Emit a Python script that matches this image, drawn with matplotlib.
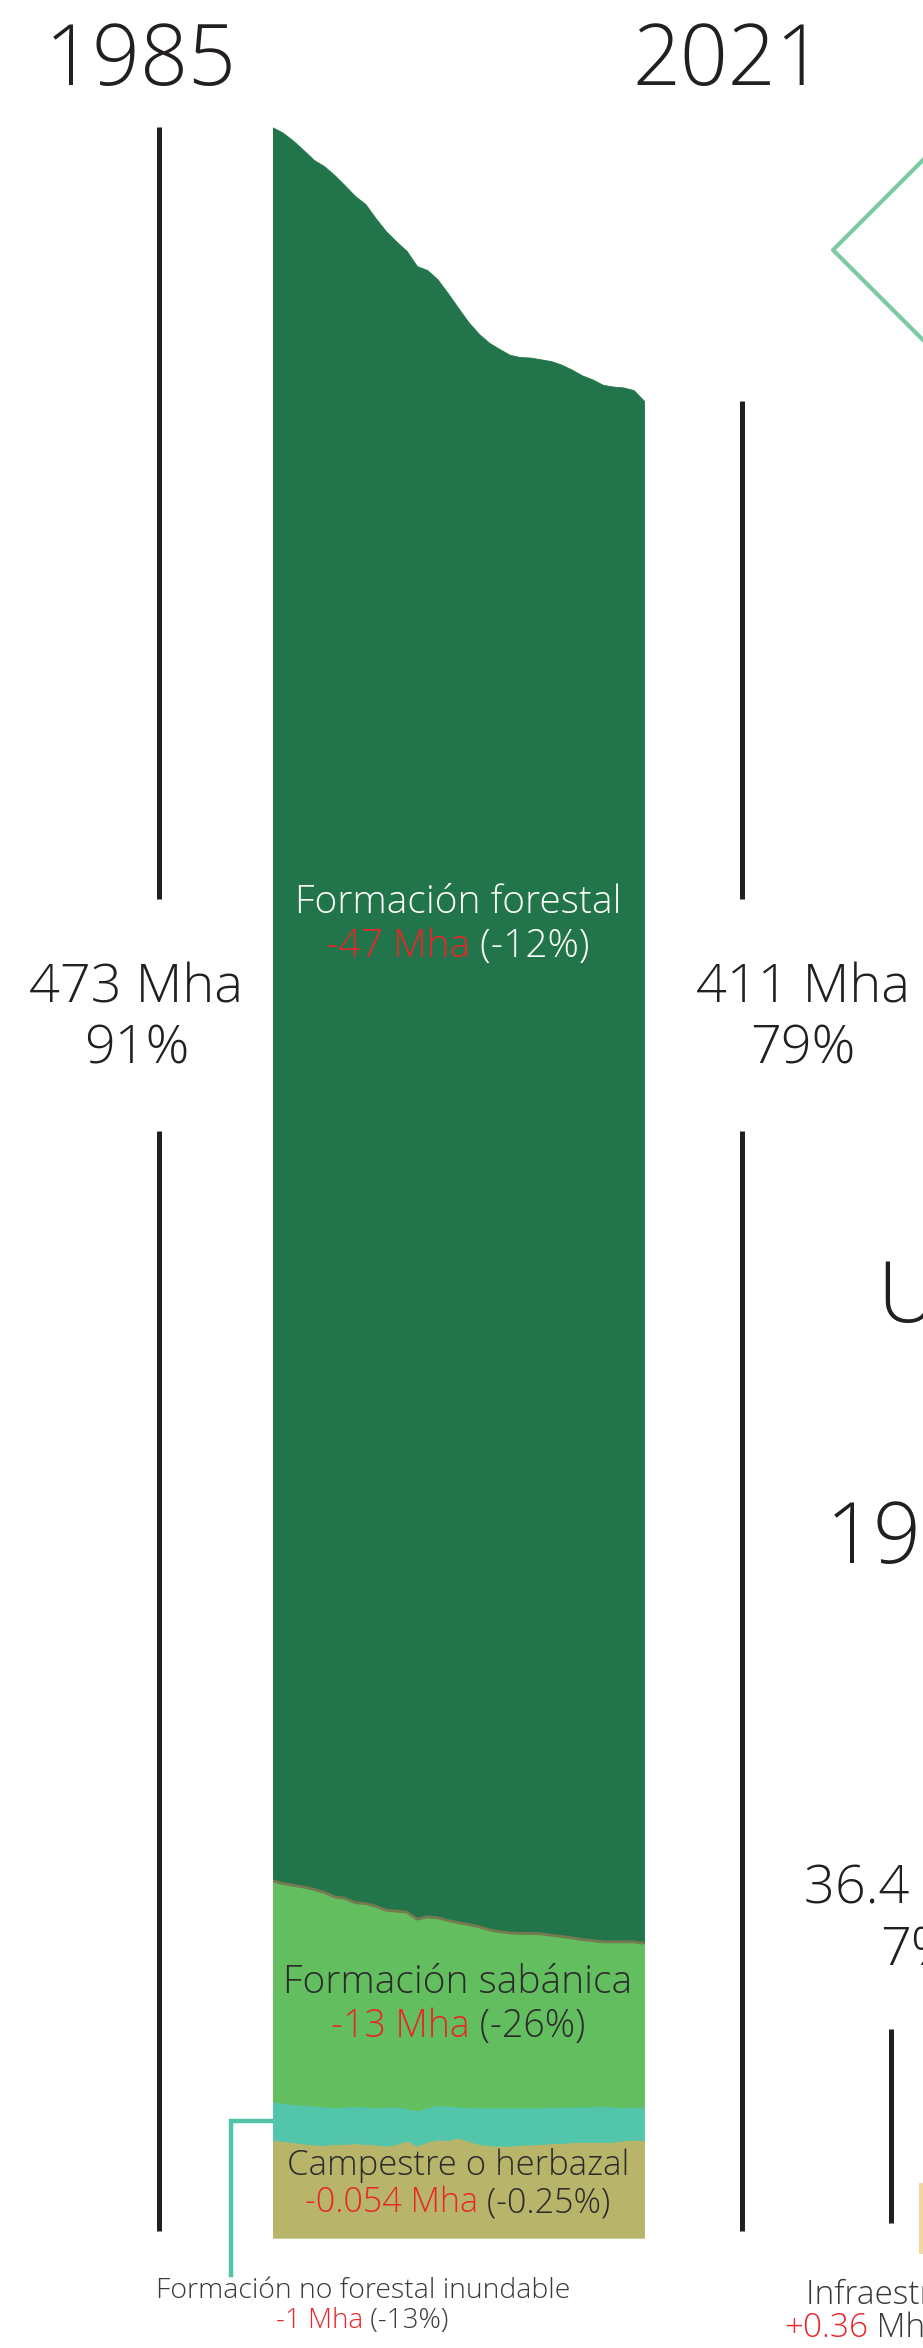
import matplotlib
matplotlib.use("Agg")
import matplotlib.pyplot as plt
import matplotlib.transforms as mtransforms
import numpy as np

W, H, DPI = 923, 2348, 100

# natural cover, Mha per year (stack bottom -> top)
years = np.arange(1985, 2022)
grassland = [21.9, 21.7, 21.4, 21.1, 20.9, 20.8, 21.0, 21.0, 21.2, 21.0,
             20.9, 20.6, 21.0, 21.8, 20.6, 21.5, 22.0, 21.9, 22.4, 21.7,
             21.0, 20.7, 20.6, 20.6, 20.8, 20.9, 21.0, 21.2, 21.2, 21.4,
             21.5, 21.5, 21.5, 21.5, 21.8, 22.0, 21.85]
flooded = [8.6, 8.5, 8.5, 8.7, 8.7, 8.6, 8.2, 8.4, 8.3, 8.4,
           8.3, 8.7, 8.4, 7.2, 7.9, 7.7, 7.7, 7.7, 7.0, 7.5,
           8.2, 8.5, 8.6, 8.6, 8.4, 8.3, 8.2, 8.1, 8.1, 8.0,
           7.9, 7.9, 8.0, 7.9, 7.4, 7.3, 7.55]
savanna = [49.5, 49.2, 49.1, 48.8, 48.5, 48.0, 47.2, 46.7, 45.6, 45.5,
           45.1, 44.1, 43.8, 44.0, 42.9, 42.7, 42.0, 41.5, 41.2, 41.0,
           40.5, 39.8, 39.4, 39.1, 39.0, 39.0, 38.9, 38.5, 38.2, 37.8,
           37.4, 37.2, 36.8, 36.9, 37.1, 37.0, 36.6]
forest = [393.0, 392.4, 391.0, 389.3, 387.6, 386.9, 385.9, 383.9, 382.5, 380.9,
          378.3, 376.3, 374.2, 372.3, 370.5, 369.1, 367.2, 364.7, 361.9, 359.1,
          357.0, 355.7, 354.7, 353.7, 353.3, 353.2, 352.9, 352.8, 352.3, 351.5,
          350.6, 349.9, 349.0, 348.6, 348.4, 347.8, 345.7]

class_names = ["Campestre o herbazal", "Formación no forestal inundable",
               "Formación sabánica", "Formación forestal"]
class_delta = ["-0.054 Mha", "-1 Mha", "-13 Mha", "-47 Mha"]
class_pct = ["(-0.25%)", "(-13%)", "(-26%)", "(-12%)"]
class_colors = ["#b8b46a", "#52c5ab", "#62be5f", "#22754a"]

total_labels = [("473 Mha", "91%"), ("411 Mha", "79%")]
year_labels = ["1985", "2021"]

# next chart (cut by the right edge)
infra_years = [1985, 1986]
infra = [0.31, 0.31]
next_title = "Urbano"
next_total = ("36.4 Mha", "7%")
next_name = "Infraestructura urbana"
next_delta = "+0.36"

INK = "#231f20"
RED = "#e8262b"
GREY = "#3a3a3a"

plt.rcParams['font.family'] = ['Open Sans', 'DejaVu Sans']

fig = plt.figure(figsize=(W / DPI, H / DPI), dpi=DPI)
fig.patch.set_facecolor("white")


def fx(px):
    return px / W


def fy(py):
    return 1 - py / H


# overlay in pixel coords for guide lines
over = fig.add_axes([0, 0, 1, 1])
over.set_xlim(0, W)
over.set_ylim(H, 0)
over.axis('off')

# stacked area
k = 4.4617  # px per Mha
ymax = 480
ax = fig.add_axes([fx(272.5), fy(2237.7), 371.5 / W, ymax * k / H])
ax.set_xlim(1985, 2021)
ax.set_ylim(0, ymax)
ax.axis('off')

series = [grassland, flooded, savanna, forest]
base = np.zeros(len(years))
tops = []
for vals, col in zip(series, class_colors):
    top = base + np.array(vals)
    ax.fill_between(years, base, top, facecolor=col, edgecolor=col, lw=0.6)
    tops.append(top)
    base = top
ax.plot(years, tops[2], color="#767a50", lw=2.0, solid_capstyle='butt')

totals = tops[3]
blend = mtransforms.blended_transform_factory(over.transData, ax.transData)
gap = (248, 300)
for xpx, top in [(159, totals[0]), (742.3, totals[-1])]:
    over.plot([xpx, xpx], [top, gap[1]], color=INK, lw=3.6, transform=blend,
              solid_capstyle='butt')
    over.plot([xpx, xpx], [gap[0], 1.5], color=INK, lw=3.6, transform=blend,
              solid_capstyle='butt')

# connector for the thin flooded band
ymid = grassland[0] + flooded[0] / 2
p = ax.transData.transform((1985, ymid))
cy = H - p[1]
over.plot([p[0], 231, 231], [cy, cy, 2275], color="#4fc3a7", lw=3.2,
          solid_joinstyle='miter')

# next chart pieces
ax2 = fig.add_axes([fx(919), fy(2254), 371.5 / W, 71 / H])
ax2.set_xlim(1985, 2021)
ax2.set_ylim(0, 0.31)
ax2.axis('off')
ax2.fill_between(infra_years, 0, infra, color="#f2d7a0", lw=0)
over.plot([890.5, 890.5], [2029, 2223], color=INK, lw=3.6, solid_capstyle='butt')
over.plot([945, 833, 945], [138, 250, 362], color="#7bcaa2", lw=3.0)

renderer = fig.canvas.get_renderer()


def rich(x, yb, parts, size, ha='center'):
    arts = [fig.text(0, fy(yb), s, color=c, fontsize=size, fontweight='light',
                     va='baseline', ha='left') for s, c in parts]
    widths = [a.get_window_extent(renderer).width for a in arts]
    x0 = x - sum(widths) / 2 if ha == 'center' else x
    for a, w in zip(arts, widths):
        a.set_x(fx(x0))
        x0 += w


# titles
rich(141, 85, [(year_labels[0], INK)], 60.5)
rich(728, 85, [(year_labels[1], INK)], 60.5)

# totals
rich(136, 1002, [(total_labels[0][0], INK)], 39)
rich(137, 1064, [(total_labels[0][1], INK)], 39)
rich(803, 1002, [(total_labels[1][0], INK)], 39)
rich(803, 1064, [(total_labels[1][1], INK)], 39)

# class labels
rich(458, 913, [(class_names[3], "white")], 28)
rich(458, 957, [(class_delta[3], RED), (" " + class_pct[3], "white")], 28)
rich(458, 1993, [(class_names[2], "#2b2b2b")], 28)
rich(458, 2037, [(class_delta[2], RED), (" " + class_pct[2], "#2b2b2b")], 27)
rich(458, 2175, [(class_names[0], "#2b2b2b")], 25)
rich(458, 2212, [(class_delta[0], RED), (" " + class_pct[0], "#2b2b2b")], 24.5)
rich(363, 2298, [(class_names[1], GREY)], 20.5)
rich(362, 2328, [(class_delta[1], RED), (" " + class_pct[1], GREY)], 20)

# cut-off labels of the next chart
rich(877, 1322, [(next_title, INK)], 60.5, ha='left')
rich(826, 1563, [(year_labels[0], INK)], 60.5, ha='left')
rich(917, 1903, [(next_total[0], INK)], 39)
rich(917, 1965, [(next_total[1], INK)], 39)
rich(806, 2304, [(next_name, GREY)], 24, ha='left')
rich(784, 2337, [(next_delta, RED), (" Mha", GREY)], 24, ha='left')

fig.savefig("out.png", dpi=DPI, facecolor="white")
